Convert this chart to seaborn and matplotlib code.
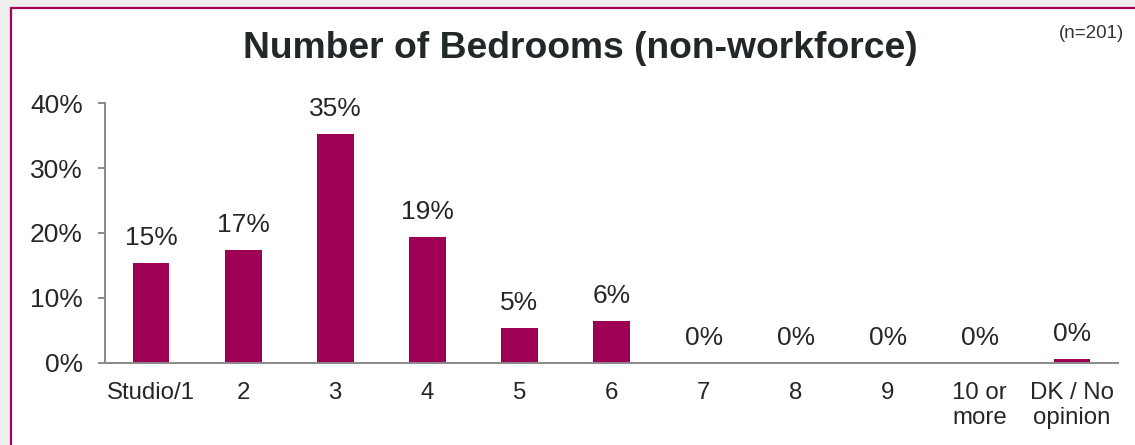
import matplotlib
matplotlib.use("Agg")
import matplotlib.pyplot as plt
import seaborn as sns
import pandas as pd
from matplotlib.patches import Rectangle
from matplotlib.ticker import PercentFormatter

categories = ["Studio/1", "2", "3", "4", "5", "6", "7", "8", "9", "10 or\nmore", "DK / No\nopinion"]
values = [0.154, 0.174, 0.353, 0.194, 0.054, 0.064, 0.0, 0.0, 0.0, 0.0, 0.005]
title = "Number of Bedrooms (non-workforce)"
note = "(n=201)"

sns.set_theme(style="white")
plt.rcParams["font.family"] = ["Liberation Sans", "DejaVu Sans"]

W, H = 1135, 445
fig = plt.figure(figsize=(W / 100, H / 100), dpi=100, facecolor="#EEEEEE")

# framed panel
fig.patches.append(Rectangle((11 / W, -10 / H), (W + 20) / W, (H - 8 + 10) / H,
                             transform=fig.transFigure, facecolor="white",
                             edgecolor="#A3005A", linewidth=1.6, zorder=-10))

ax = fig.add_axes([105 / W, 1 - 362.7 / H, (1118 - 105) / W, (362.7 - 103.3) / H])
ax.set_facecolor("none")
df = pd.DataFrame({"cat": categories, "val": values})
sns.barplot(data=df, x="cat", y="val", color="#9E0055", saturation=1, width=0.4,
            linewidth=0, ax=ax)

ax.set_ylim(0, 0.4)
ax.set_xlim(-0.5, len(categories) - 0.5)
ax.yaxis.set_major_formatter(PercentFormatter(1.0, decimals=0))
ax.set_yticks([0, 0.1, 0.2, 0.3, 0.4])
ax.set_xlabel("")
ax.set_ylabel("")

axis_col = "#898989"
for s in ["top", "right"]:
    ax.spines[s].set_visible(False)
for s in ["left", "bottom"]:
    ax.spines[s].set_color(axis_col)
    ax.spines[s].set_linewidth(1.4)

# x ticks at category boundaries
ax.set_xticks([i - 0.5 for i in range(len(categories) + 1)], minor=False)
ax.set_xticklabels([])
ax.set_xticks(range(len(categories)), minor=True)
ax.set_xticklabels(categories, minor=True, linespacing=1.17)
ax.tick_params(axis="x", which="major", direction="out", length=5, width=1.4, color=axis_col)
ax.tick_params(axis="x", which="minor", length=0, pad=14, labelsize=17.3, labelcolor="#262626")
ax.tick_params(axis="y", direction="out", length=5, width=1.4, color=axis_col,
               labelsize=19, labelcolor="#262626", pad=11, left=True)

for i, v in enumerate(values):
    ax.annotate(f"{round(v * 100)}%", xy=(i, v), xytext=(0, 13), textcoords="offset points",
                ha="center", va="baseline", fontsize=19, color="#262626")

fig.text(580 / W, 1 - 48 / H, title, ha="center", va="center", fontsize=26.8,
         fontweight="bold", color="#222829")
fig.text(1092 / W, 1 - 33 / H, note, ha="center", va="center", fontsize=13.5, color="#333333")

fig.savefig("out.png", dpi=100, facecolor=fig.get_facecolor())
